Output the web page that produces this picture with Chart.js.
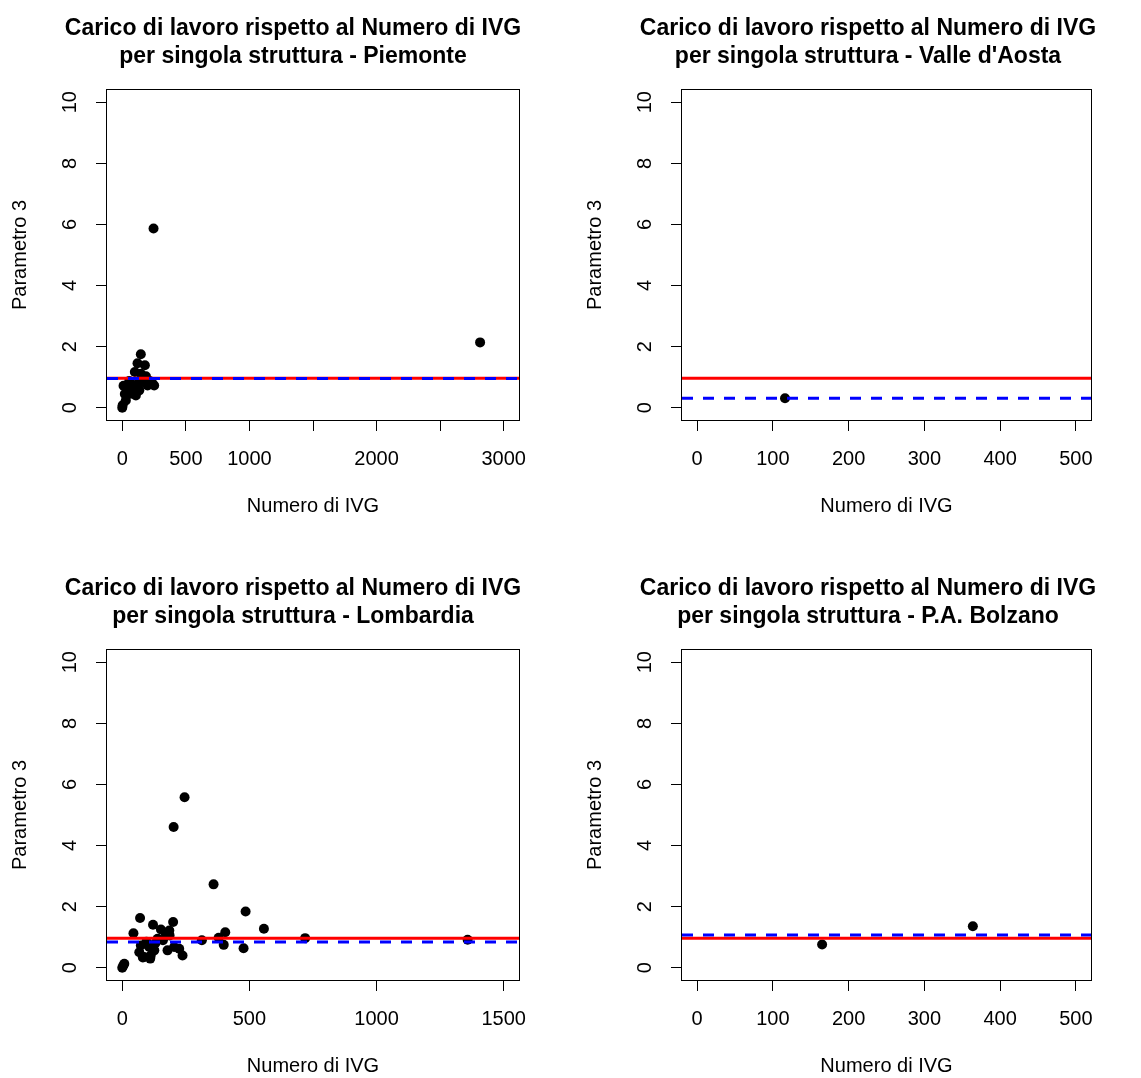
<!DOCTYPE html>
<html>
<head>
<meta charset="utf-8">
<script src="https://cdn.jsdelivr.net/npm/chart.js@4.4.1/dist/chart.umd.min.js"></script>
<style>
html,body{margin:0;padding:0;background:#fff;overflow:hidden;width:1141px;height:1078px;position:relative}
canvas{position:absolute}
</style>
</head>
<body>
<canvas id="c1" width="586" height="518" style="left:0px;top:0px"></canvas>
<canvas id="c2" width="586" height="518" style="left:575px;top:0px"></canvas>
<canvas id="c3" width="586" height="518" style="left:0px;top:560px"></canvas>
<canvas id="c4" width="586" height="518" style="left:575px;top:560px"></canvas>
<script>
// ---- data ----
const titleLine1 = 'Carico di lavoro rispetto al Numero di IVG';
const regionNames = ['Piemonte', "Valle d'Aosta", 'Lombardia', 'P.A. Bolzano'];
const xAxisTitle = 'Numero di IVG';
const yAxisTitle = 'Parametro 3';

const yTicks = [0, 2, 4, 6, 8, 10];
const yRange = [-0.4, 10.4];

const referenceLine = 0.97;          // red solid line
const meanPiemonte = 0.96;           // blue dashed lines
const meanValleAosta = 0.31;
const meanLombardia = 0.84;
const meanBolzano = 1.07;

const xTicksPiemonte = [0, 500, 1000, 1500, 2000, 2500, 3000];
const xHiddenPiemonte = [1500, 2500];
const xRangePiemonte = [-120, 3120];
const piemonteX = [146, 120, 178, 99, 146, 186, 42, 89, 134, 199, 238, 251, 68, 107, 28, 3, 0, 160, 10, 55, 20, 75, 120, 170, 215, 246, 2814];
const piemonteY = [1.75, 1.46, 1.39, 1.17, 1.11, 1.03, 0.68, 0.73, 0.57, 0.73, 0.79, 0.73, 0.46, 0.40, 0.24, 0.08, 0.00, 0.84, 0.72, 0.88, 0.45, 0.62, 0.78, 0.95, 0.88, 5.87, 2.14];

const xTicksSmall = [0, 100, 200, 300, 400, 500];
const xRangeSmall = [-20, 520];
const valleAostaX = [116];
const valleAostaY = [0.31];

const xTicksLombardia = [0, 500, 1000, 1500];
const xRangeLombardia = [-60, 1560];
const lombardiaX = [70, 121, 200, 44, 152, 171, 186, 139, 73, 106, 67, 86, 112, 110, 126, 178, 204, 224, 237, 8, 0, 4, 313, 379, 405, 399, 477, 485, 557, 719, 359, 202, 245, 1358, 185, 95, 130, 160, 81];
const lombardiaY = [1.63, 1.41, 1.50, 1.13, 1.25, 1.11, 1.06, 0.95, 0.73, 0.68, 0.51, 0.35, 0.40, 0.30, 0.57, 0.57, 0.68, 0.62, 0.40, 0.13, 0.00, 0.07, 0.90, 0.98, 1.16, 0.75, 0.64, 1.84, 1.28, 0.97, 2.73, 4.61, 5.58, 0.92, 1.22, 0.85, 0.80, 0.90, 0.34];

const bolzanoX = [165, 364];
const bolzanoY = [0.76, 1.36];

// ---- rendering ----
const FONT = "'Liberation Sans', Arial, Helvetica, sans-serif";

const boxPlugin = {
  id: 'rbox',
  afterDraw(chart) {
    const a = chart.chartArea;
    const ctx = chart.ctx;
    ctx.save();
    ctx.strokeStyle = '#000';
    ctx.lineWidth = 1;
    ctx.strokeRect(Math.round(a.left) - 0.5, Math.round(a.top) - 0.5, Math.round(a.right - a.left) + 1, Math.round(a.bottom - a.top) + 1);
    ctx.restore();
  }
};

function makePanel(id, region, xs, ys, mean, xTicks, xRange, hidden, rightGap) {
  const pts = xs.map((x, i) => ({x: x, y: ys[i]}));
  new Chart(document.getElementById(id), {
    type: 'scatter',
    data: {
      datasets: [
        {type: 'line', data: [{x: xRange[0], y: mean}, {x: xRange[1], y: mean}], borderColor: '#0000ff', borderWidth: 3, borderDash: [11, 10], pointRadius: 0, fill: false},
        {type: 'line', data: [{x: xRange[0], y: referenceLine}, {x: xRange[1], y: referenceLine}], borderColor: '#ff0000', borderWidth: 3, pointRadius: 0, fill: false},
        {type: 'scatter', data: pts, pointRadius: 5, pointHoverRadius: 5, backgroundColor: '#000', borderWidth: 0}
      ]
    },
    options: {
      responsive: false,
      animation: false,
      events: [],
      layout: {padding: 0},
      plugins: {
        legend: {display: false},
        tooltip: {enabled: false},
        title: {
          display: true,
          text: [titleLine1, 'per singola struttura - ' + region],
          color: '#000',
          font: {family: FONT, size: 23, weight: 'bold', lineHeight: '28px'},
          padding: {top: 15, bottom: 19}
        }
      },
      scales: {
        x: {
          type: 'linear', position: 'bottom', min: xRange[0], max: xRange[1],
          afterBuildTicks: s => { s.ticks = xTicks.map(v => ({value: v})); },
          afterFit: s => { s.height = 98; },
          grid: {display: true, drawOnChartArea: false, drawTicks: true, tickLength: 11, color: '#000', lineWidth: 1},
          border: {display: false},
          ticks: {
            autoSkip: false, maxRotation: 0, minRotation: 0, padding: 16, color: '#000',
            font: {family: FONT, size: 20},
            callback: v => (hidden && hidden.indexOf(v) >= 0) ? '' : String(v)
          },
          title: {display: true, text: xAxisTitle, color: '#000', font: {family: FONT, size: 20, lineHeight: '20px'}, padding: {top: 0, bottom: 1.5}}
        },
        y: {
          type: 'linear', position: 'left', min: yRange[0], max: yRange[1],
          afterBuildTicks: s => { s.ticks = yTicks.map(v => ({value: v})); },
          afterFit: s => { s.width = 107; },
          grid: {display: true, drawOnChartArea: false, drawTicks: true, tickLength: 11, color: '#000', lineWidth: 1},
          border: {display: false},
          ticks: {
            autoSkip: false, minRotation: 90, maxRotation: 90, crossAlign: 'center', padding: 14, color: '#000',
            font: {family: FONT, size: 20}
          },
          title: {display: true, text: yAxisTitle, color: '#000', font: {family: FONT, size: 20, lineHeight: '20px'}, padding: {top: 10, bottom: 0}}
        },
        yr: {
          type: 'linear', position: 'right', display: true,
          grid: {display: false}, border: {display: false}, ticks: {display: false},
          afterFit: s => { s.width = rightGap; }
        }
      }
    },
    plugins: [boxPlugin]
  });
}

makePanel('c1', regionNames[0], piemonteX, piemonteY, meanPiemonte, xTicksPiemonte, xRangePiemonte, xHiddenPiemonte, 67);
makePanel('c2', regionNames[1], valleAostaX, valleAostaY, meanValleAosta, xTicksSmall, xRangeSmall, null, 70);
makePanel('c3', regionNames[2], lombardiaX, lombardiaY, meanLombardia, xTicksLombardia, xRangeLombardia, null, 67);
makePanel('c4', regionNames[3], bolzanoX, bolzanoY, meanBolzano, xTicksSmall, xRangeSmall, null, 70);
</script>
</body>
</html>
